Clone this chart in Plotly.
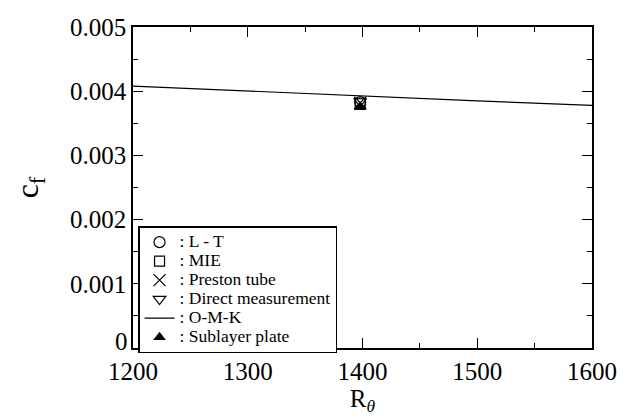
import plotly.graph_objects as go

# Skin friction coefficient versus momentum-thickness Reynolds number
re_theta_meas = [1398]
cf_lt = [0.00383]
cf_mie = [0.00381]
cf_preston = [0.00382]
cf_direct = [0.00384]
cf_sublayer = [0.00375]

# O-M-K correlation curve
re_theta_omk = [1200, 1300, 1400, 1500, 1600]
cf_omk = [0.00408, 0.00400, 0.00392, 0.00385, 0.00378]

# y tick values and labels (the zero label is raised above the axis separately)
cf_ticks = [0, 0.001, 0.002, 0.003, 0.004, 0.005]
cf_ticktext = ["", "0.001", "0.002", "0.003", "0.004", "0.005"]

FONT = "Liberation Serif"


def legend_name(s):
    return f'<span style="font-size:17.5px">{s}</span>'


fig = go.Figure()

marker_line = dict(color="black", width=1.2)
fig.add_trace(go.Scatter(x=re_theta_meas, y=cf_lt, mode="markers", name=legend_name(": L - T"),
                         marker=dict(symbol="circle-open", size=11, color="black", line=marker_line)))
fig.add_trace(go.Scatter(x=re_theta_meas, y=cf_mie, mode="markers", name=legend_name(": MIE"),
                         marker=dict(symbol="square-open", size=10, color="black", line=marker_line)))
fig.add_trace(go.Scatter(x=re_theta_meas, y=cf_preston, mode="markers", name=legend_name(": Preston tube"),
                         marker=dict(symbol="x-thin-open", size=12, color="black", line=marker_line)))
fig.add_trace(go.Scatter(x=re_theta_meas, y=cf_direct, mode="markers", name=legend_name(": Direct measurement"),
                         marker=dict(symbol="triangle-down-open", size=11, color="black", line=marker_line)))
fig.add_trace(go.Scatter(x=re_theta_omk, y=cf_omk, mode="lines", name=legend_name(": O-M-K"),
                         line=dict(color="black", width=1.2)))
fig.add_trace(go.Scatter(x=re_theta_meas, y=cf_sublayer, mode="markers", name=legend_name(": Sublayer plate"),
                         marker=dict(symbol="triangle-up", size=11, color="black")))

axis_common = dict(
    showline=True, linecolor="black", linewidth=1.5, mirror="allticks",
    ticks="inside", ticklen=10, tickwidth=1.2, tickcolor="black",
    showgrid=False, zeroline=False,
    tickfont=dict(family=FONT, size=25, color="black"),
)

fig.update_xaxes(range=[1200, 1600], dtick=100, tick0=1200,
                 minor=dict(ticks="inside", ticklen=5, dtick=50, tickcolor="black", tickwidth=1.2, showgrid=False),
                 title=dict(text="R<sub><i>θ</i></sub>", font=dict(family=FONT, size=25, color="black"), standoff=4),
                 **axis_common)
fig.update_yaxes(range=[0, 0.005], tickmode="array", tickvals=cf_ticks, ticktext=cf_ticktext,
                 minor=dict(ticks="inside", ticklen=5, dtick=0.0005, tickcolor="black", tickwidth=1.2, showgrid=False),
                 title=dict(text="c<sub>f</sub>", font=dict(family=FONT, size=32, color="black"), standoff=22),
                 **axis_common)

# zero label sits just above the x axis line so it clears the 1200 label
fig.add_annotation(text=str(cf_ticks[0]), xref="paper", yref="y", x=0, y=cf_ticks[0],
                   xanchor="right", yanchor="bottom", xshift=-3, yshift=-9, showarrow=False,
                   font=dict(family=FONT, size=25, color="black"))

fig.update_layout(
    width=633, height=418,
    margin=dict(l=133, r=41, t=27, b=65),
    paper_bgcolor="white", plot_bgcolor="white",
    font=dict(family=FONT, color="black"),
    legend=dict(x=0.011, y=-0.016, xanchor="left", yanchor="bottom",
                bordercolor="black", borderwidth=1.5, bgcolor="white",
                font=dict(family=FONT, size=12, color="black"),
                tracegroupgap=0, itemwidth=30,
                entrywidthmode="pixels", entrywidth=177),
    showlegend=True,
)

fig.write_html("out.html")
